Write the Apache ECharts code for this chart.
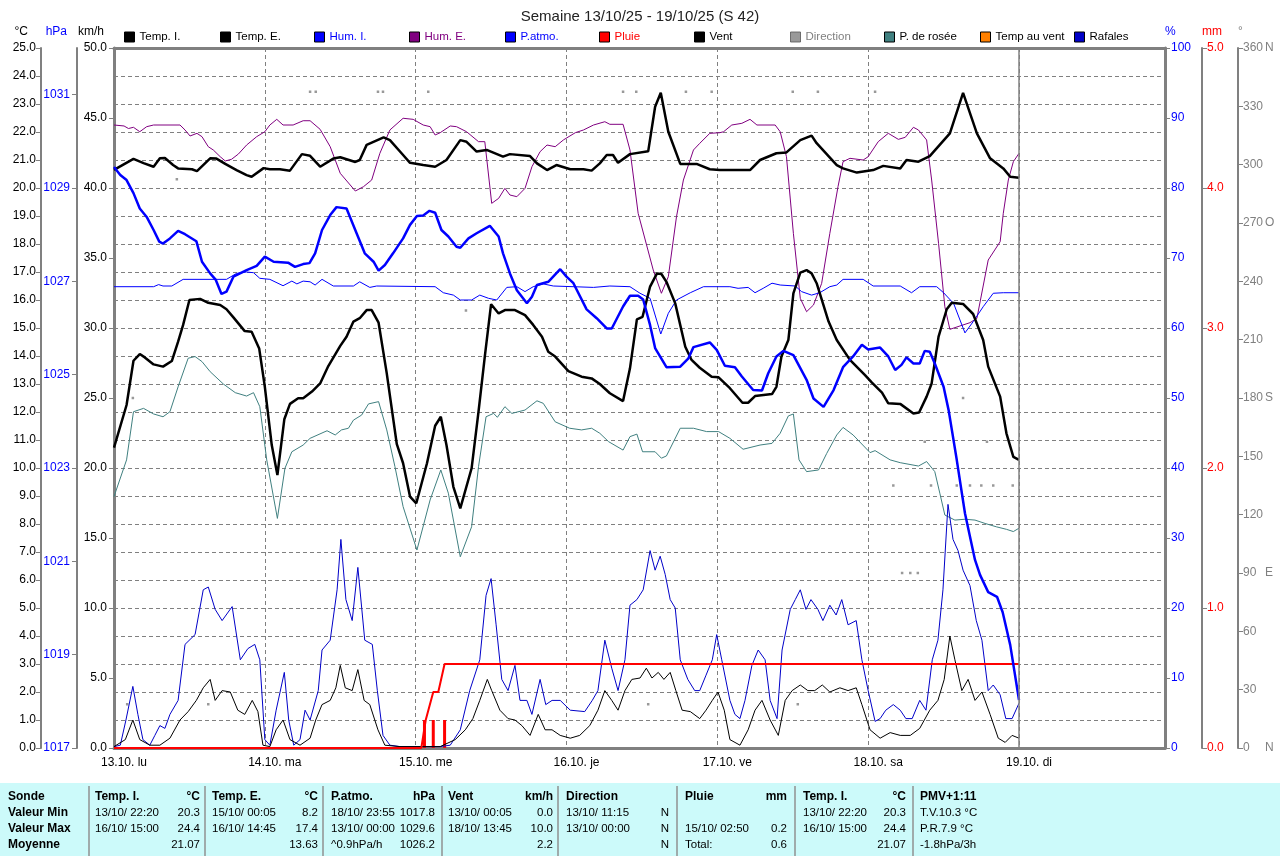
<!DOCTYPE html>
<html><head><meta charset="utf-8">
<script src="https://cdn.jsdelivr.net/npm/echarts@6.0.0/dist/echarts.min.js"></script>
<style>html,body{margin:0;padding:0;background:#fff}#c{width:1280px;height:856px}</style>
</head><body><div id="c"></div>
<script>
// ---------- DATA (time = hours since 13.10 00:00) ----------
const dayLabels = ['13.10. lu','14.10. ma','15.10. me','16.10. je','17.10. ve','18.10. sa','19.10. di'];
const dirSuffix = {360:'N', 270:'O', 180:'S', 90:'E', 0:'N'};

const tempInt = [[0,20.65],[3.1,21.04],[4.7,20.89],[6.3,20.76],[7.3,21.06],[8.1,21.07],[9.4,20.82],[10.2,20.70],[12.4,20.67],[13.2,20.60],[15.3,21.06],[16.3,21.05],[17.7,20.86],[19.5,20.64],[21.1,20.46],[21.9,20.40],[23.8,20.71],[24.8,20.67],[26.4,20.67],[28.0,20.62],[29.9,21.21],[31.2,21.15],[32.8,20.76],[34.9,21.05],[36.0,21.10],[38.4,20.93],[39.1,21.00],[40.2,21.54],[42.9,21.81],[43.9,21.71],[46.0,21.18],[47.1,20.90],[49.2,20.82],[51.1,20.76],[52.9,21.00],[55.1,21.71],[56.1,21.65],[57.7,21.30],[59.3,21.36],[61.9,21.12],[63.0,21.21],[66.2,21.14],[67.3,20.88],[68.9,20.64],[70.4,20.82],[72.6,20.67],[74.7,20.67],[76.0,20.62],[77.3,20.88],[78.4,21.18],[79.4,21.18],[80.2,20.90],[82.1,21.21],[85.0,21.31],[86.1,22.90],[87.0,23.40],[88.2,22.01],[90.1,20.86],[92.7,20.86],[94.8,20.67],[96.4,20.64],[101.2,20.64],[102.8,21.00],[105.4,21.24],[107.0,21.27],[109.2,21.71],[111.0,21.87],[111.8,21.60],[115.0,20.82],[116.0,20.70],[118.2,20.55],[120.8,20.64],[122.4,20.79],[125.1,20.70],[126.1,21.00],[128.0,20.94],[129.8,21.14],[133.0,21.95],[135.1,23.40],[137.3,21.95],[139.4,21.06],[141.5,20.70],[142.6,20.40],[144.0,20.37]];

const tempExt = [[0,10.73],[2.0,12.25],[3.1,13.83],[4.1,14.07],[4.9,13.95],[6.3,13.70],[7.8,13.62],[9.2,13.82],[10.2,14.51],[11.0,15.11],[12.0,16.0],[13.7,16.04],[15.0,15.90],[16.9,15.82],[17.9,15.67],[19.0,15.38],[20.8,14.89],[21.9,14.87],[23.1,14.27],[24.0,12.90],[25.1,10.82],[26.0,9.75],[27.1,11.74],[28.0,12.29],[29.3,12.49],[30.1,12.49],[31.5,12.73],[32.8,13.02],[34.1,13.64],[36.0,14.36],[37.0,14.69],[38.1,15.23],[39.1,15.35],[40.2,15.64],[41.0,15.64],[42.1,15.19],[43.4,13.38],[45.0,10.85],[46.0,10.17],[47.1,8.98],[48.1,8.74],[49.8,10.17],[51.1,11.51],[52.0,11.83],[52.9,10.82],[54.0,9.33],[55.1,8.56],[56.9,9.99],[58.0,12.01],[59.0,13.98],[60.0,15.85],[61.2,15.52],[62.2,15.64],[63.8,15.64],[65.4,15.46],[66.7,15.11],[68.1,14.69],[69.1,14.15],[70.2,13.98],[72.3,13.46],[74.4,13.26],[76.0,13.20],[77.3,13.0],[78.9,12.67],[81.0,12.39],[82.1,13.56],[83.2,15.31],[84.1,15.40],[85.3,16.48],[86.4,16.95],[87.1,16.93],[87.9,16.65],[89.3,15.88],[90.9,14.33],[91.9,13.86],[93.2,13.58],[95.1,13.26],[96.2,13.24],[98.0,12.85],[100.0,12.33],[100.9,12.33],[102.0,12.57],[104.7,12.64],[105.4,12.90],[106.2,13.98],[107.3,14.57],[108.1,16.24],[109.2,16.98],[110.2,17.07],[111.0,16.95],[111.8,16.60],[113.7,15.23],[115.0,14.57],[117.1,13.86],[119.5,13.32],[120.6,13.05],[122.2,12.69],[123.2,12.31],[125.1,12.29],[127.2,11.95],[128.1,11.98],[129.3,12.55],[130.1,13.02],[131.2,14.69],[132.5,15.67],[133.3,15.90],[135.1,15.86],[136.7,15.50],[138.3,14.57],[139.1,13.62],[141.0,12.55],[142.0,11.24],[143.1,10.40],[144.0,10.29]];

const humInt = [[0,65.9],[6.3,65.9],[7.1,66.2],[7.8,66.0],[9.2,66.0],[11.0,66.95],[17.9,66.95],[19.5,67.8],[21.1,68.0],[22.2,67.9],[23.2,67.1],[24.8,66.95],[26.9,66.04],[28.3,66.7],[29.1,66.3],[30.1,66.7],[31.2,66.6],[32.0,66.14],[33.1,66.95],[34.9,66.0],[38.1,66.0],[39.1,66.6],[40.7,65.8],[41.8,66.0],[51.1,65.9],[52.4,65.04],[54.0,64.7],[55.1,64.0],[56.9,64.0],[58.2,64.7],[59.6,64.24],[60.9,64.0],[62.5,65.8],[64.1,65.9],[65.4,65.2],[66.7,65.9],[68.3,66.3],[69.9,66.0],[76.3,65.8],[78.9,66.0],[82.1,65.9],[83.7,64.96],[85.3,64.24],[87.0,59.14],[88.2,62.1],[89.5,64.0],[91.7,65.04],[93.8,65.9],[98.0,65.9],[99.3,65.67],[100.9,65.8],[102.0,65.04],[103.3,65.67],[104.7,66.4],[106.0,66.14],[108.4,66.0],[109.4,65.2],[111.0,64.7],[112.3,65.04],[113.9,65.9],[115.0,66.14],[116.0,66.95],[119.2,66.95],[120.8,66.0],[125.1,66.0],[126.9,65.04],[128.2,65.9],[130.9,65.9],[132.0,65.04],[133.6,63.5],[135.4,59.3],[136.7,60.9],[138.3,63.04],[139.9,64.96],[141.5,65.04],[144.0,65.04]];

const humExt = [[0,89.0],[1.6,88.86],[2.3,88.5],[3.1,88.67],[4.1,88.04],[5.2,88.76],[6.3,89.0],[10.5,89.0],[11.3,88.29],[12.1,87.43],[13.2,87.81],[14.0,87.33],[15.0,85.9],[15.8,85.43],[16.9,84.47],[17.7,83.86],[18.7,84.1],[19.8,84.86],[21.1,86.14],[22.7,87.33],[24.0,88.04],[24.8,89.0],[25.9,89.81],[26.9,89.0],[28.5,89.0],[30.1,89.61],[31.2,89.61],[32.8,88.38],[34.4,85.9],[36.0,82.1],[38.4,79.57],[39.7,80.19],[41.0,81.14],[42.3,84.95],[43.9,88.29],[46.0,89.96],[47.6,89.81],[49.2,89.0],[50.3,88.76],[51.1,87.57],[51.9,87.9],[53.5,88.86],[54.5,88.76],[56.1,88.04],[58.0,86.62],[59.0,86.62],[60.1,77.81],[61.2,78.52],[62.2,79.95],[63.0,79.0],[64.1,78.76],[65.4,79.95],[66.5,83.04],[67.8,85.19],[68.9,86.14],[70.2,85.9],[71.5,86.86],[73.4,87.9],[74.7,88.29],[76.3,89.0],[78.1,89.47],[78.9,89.1],[81.0,89.1],[82.1,85.43],[83.4,76.38],[85.8,68.29],[87.1,64.96],[88.2,67.33],[89.5,75.9],[90.6,81.14],[92.2,85.43],[93.2,86.38],[94.8,87.81],[96.4,87.9],[97.0,88.04],[98.3,89.0],[99.9,89.24],[101.2,89.81],[102.3,89.0],[105.2,89.0],[106.0,88.04],[107.0,84.47],[108.1,73.52],[109.2,64.24],[110.2,62.33],[111.3,63.29],[112.6,66.38],[113.9,73.52],[115.2,80.19],[116.0,83.76],[117.1,84.24],[119.2,84.0],[120.0,84.47],[121.6,86.62],[123.2,87.81],[124.8,86.95],[125.9,87.24],[127.2,88.67],[128.0,88.29],[129.3,86.86],[130.1,81.14],[131.2,72.1],[132.2,63.04],[133.0,59.81],[134.6,60.29],[136.2,60.76],[137.3,61.38],[139.1,69.71],[141.0,72.33],[141.5,76.38],[142.3,81.14],[143.1,83.76],[144.0,84.95]];

const pressure = [[0,1029.45],[1.0,1029.28],[2.0,1029.17],[3.1,1028.89],[4.1,1028.56],[5.2,1028.38],[6.3,1028.10],[7.2,1027.85],[7.8,1027.81],[8.9,1027.92],[10.2,1028.08],[11.3,1028.01],[13.1,1027.86],[14.0,1027.42],[15.3,1027.17],[16.2,1027.03],[17.1,1026.73],[17.9,1026.78],[19.0,1027.10],[21.1,1027.24],[22.7,1027.33],[24.0,1027.53],[25.4,1027.42],[27.7,1027.40],[28.8,1027.31],[30.1,1027.37],[31.1,1027.39],[32.0,1027.60],[33.1,1028.10],[34.4,1028.42],[35.4,1028.59],[37.0,1028.56],[38.6,1028.03],[39.9,1027.60],[41.3,1027.42],[42.1,1027.23],[43.1,1027.35],[44.4,1027.60],[46.0,1027.92],[47.1,1028.21],[48.2,1028.40],[49.2,1028.41],[50.2,1028.51],[51.1,1028.47],[52.1,1028.10],[53.2,1027.96],[54.5,1027.74],[55.1,1027.72],[56.4,1027.92],[57.7,1028.03],[59.8,1028.19],[61.2,1027.96],[61.9,1027.60],[63.0,1027.17],[64.1,1026.81],[65.7,1026.53],[66.5,1026.67],[67.3,1026.92],[69.1,1026.99],[71.0,1027.26],[72.0,1027.10],[73.1,1026.96],[75.2,1026.40],[76.8,1026.21],[78.4,1025.99],[79.2,1025.99],[81.0,1026.46],[82.1,1026.69],[83.4,1026.69],[84.2,1026.61],[85.3,1026.06],[86.1,1025.57],[87.9,1025.16],[90.1,1025.17],[91.4,1025.35],[92.2,1025.59],[94.8,1025.69],[95.9,1025.53],[97.2,1025.19],[98.8,1025.16],[99.9,1024.96],[101.7,1024.67],[103.1,1024.66],[104.1,1025.03],[105.4,1025.39],[106.5,1025.51],[108.1,1025.42],[110.2,1024.89],[111.3,1024.49],[112.9,1024.31],[114.5,1024.67],[116.0,1025.16],[117.6,1025.39],[119.0,1025.64],[120.0,1025.54],[121.9,1025.58],[123.2,1025.39],[124.3,1025.10],[125.3,1025.21],[126.1,1025.37],[127.2,1025.24],[128.2,1025.24],[129.0,1025.51],[129.8,1025.49],[130.6,1025.24],[132.0,1024.74],[132.8,1024.24],[134.1,1023.17],[135.4,1022.03],[137.0,1021.03],[137.8,1020.71],[139.1,1020.34],[140.5,1020.24],[141.4,1019.91],[142.6,1019.21],[144.0,1018.03]];

const dewPoint = [[0,8.98],[2.0,10.29],[3.1,12.01],[4.7,12.13],[6.3,11.93],[7.8,11.83],[8.9,12.01],[10.2,12.9],[11.8,13.92],[12.9,13.98],[14.0,13.8],[15.3,13.44],[17.4,13.0],[19.3,12.69],[21.1,12.57],[22.2,12.69],[23.2,12.19],[24.3,10.29],[26.0,8.2],[27.2,9.99],[28.3,10.58],[30.1,10.82],[31.2,11.06],[33.9,11.33],[35.2,11.18],[36.2,11.36],[37.3,11.42],[38.1,11.71],[39.4,11.89],[40.5,12.29],[42.1,12.37],[43.4,11.36],[44.7,10.05],[46.0,8.62],[48.2,7.07],[50.3,8.86],[52.0,9.93],[53.2,9.1],[55.1,6.83],[56.9,7.9],[58.0,10.05],[59.2,11.83],[60.4,11.95],[61.0,11.81],[62.2,12.19],[63.3,11.95],[65.4,12.07],[67.3,12.4],[68.3,12.31],[70.2,11.65],[72.5,11.42],[74.4,11.36],[76.0,11.42],[77.3,11.24],[78.7,10.94],[81.0,10.64],[82.1,11.12],[83.2,11.21],[84.1,10.58],[86.1,10.58],[87.1,10.35],[87.9,10.43],[90.1,11.42],[92.2,11.42],[94.3,11.3],[96.2,11.3],[98.0,11.06],[100.1,10.67],[102.8,10.82],[104.7,10.88],[106.0,11.24],[107.3,11.86],[108.1,11.93],[109.0,10.29],[110.2,9.87],[112.1,9.93],[113.4,10.52],[115.0,11.18],[116.0,11.45],[117.6,11.18],[120.3,10.55],[121.1,10.62],[123.5,10.29],[125.1,10.19],[128.0,10.07],[129.3,10.23],[130.6,9.87],[131.4,9.1],[132.2,8.32],[133.8,8.14],[135.4,8.17],[137.0,8.14],[138.6,8.02],[140.4,7.9],[142.0,7.81],[143.1,7.73],[144.0,7.85]];

const gusts = [[0,0.1],[1.0,0.2],[1.9,2.0],[3.0,4.4],[3.8,2.4],[4.6,0.6],[5.7,0.2],[6.5,0.9],[7.3,1.6],[8.1,1.4],[8.9,2.4],[10.2,3.4],[11.3,7.4],[12.9,8.1],[14.2,11.3],[15.0,11.5],[16.1,9.9],[17.2,9.1],[18.8,10.1],[20.1,6.3],[21.3,7.1],[22.4,7.4],[23.2,6.3],[24.0,0.6],[24.8,0.2],[25.8,2.7],[27.1,5.4],[27.8,2.0],[28.6,0.2],[29.6,0.6],[30.4,2.7],[31.2,2.0],[32.5,4.1],[33.1,7.0],[34.4,7.7],[35.5,11.3],[36.1,14.9],[36.9,10.6],[37.9,9.1],[38.8,12.9],[39.9,7.7],[41.1,7.4],[41.9,4.1],[42.8,0.9],[43.9,0.2],[45.5,0.1],[51.9,0.1],[53.5,0.2],[55.1,1.3],[56.6,4.1],[58.2,6.3],[59.2,10.9],[60.0,12.1],[60.8,8.8],[61.7,4.9],[62.7,4.1],[63.8,5.9],[64.6,3.4],[65.7,3.4],[66.5,2.4],[67.8,4.9],[68.7,3.1],[69.7,3.4],[71.0,3.4],[72.6,2.7],[74.9,2.6],[76.1,3.4],[77.0,4.1],[78.1,7.7],[79.2,5.7],[80.2,4.1],[81.3,6.3],[82.1,10.2],[83.2,10.6],[84.2,11.3],[85.3,14.1],[86.1,12.7],[86.9,13.7],[87.7,12.4],[88.5,10.6],[89.3,10.0],[90.1,6.3],[91.3,4.9],[92.4,4.1],[93.2,4.1],[94.2,5.2],[95.2,6.3],[95.9,8.1],[96.7,6.3],[98.0,3.4],[98.8,2.4],[99.6,2.1],[100.4,3.4],[101.5,5.9],[102.5,7.0],[103.6,6.3],[104.4,3.4],[105.5,2.1],[106.3,7.0],[107.6,9.9],[108.4,10.6],[109.2,11.3],[110.1,9.9],[110.9,10.6],[112.0,9.9],[112.8,9.1],[113.9,10.2],[114.9,9.5],[115.8,10.6],[116.8,8.8],[118.1,9.1],[119.0,6.3],[120.0,4.1],[121.1,1.9],[121.9,2.1],[122.8,2.7],[124.0,3.1],[125.1,2.7],[126.0,2.1],[127.0,2.1],[128.2,3.4],[129.2,2.7],[130.2,6.3],[131.1,7.7],[131.9,11.3],[132.7,17.4],[133.5,14.9],[134.3,14.1],[135.1,12.7],[136.2,11.6],[137.2,9.1],[138.1,7.7],[139.1,4.1],[139.9,4.5],[141.0,3.8],[141.9,2.1],[142.9,2.1],[144.0,3.2]];

const wind = [[0,0.1],[1.8,0.6],[3.0,2.0],[4.1,0.6],[5.7,0.2],[7.3,0.2],[8.9,0.7],[10.5,2.0],[11.8,2.6],[13.1,3.4],[14.2,4.3],[15.3,4.9],[16.1,3.4],[17.2,4.1],[18.5,4.0],[19.7,2.7],[20.8,2.4],[22.0,3.4],[22.9,2.6],[23.7,0.2],[24.8,0.1],[25.8,1.3],[26.9,2.0],[28.0,0.6],[29.6,0.2],[31.2,0.7],[32.1,2.0],[33.1,3.1],[34.4,3.4],[35.3,4.3],[36.0,5.9],[36.8,4.3],[37.9,4.1],[38.8,5.6],[39.8,3.4],[40.7,3.1],[42.0,1.3],[43.1,0.2],[45.5,0.1],[51.9,0.1],[54.3,0.6],[55.9,1.3],[57.1,2.1],[58.2,3.4],[59.4,4.9],[60.1,4.1],[61.4,2.7],[62.7,2.1],[63.8,2.0],[64.9,1.6],[66.2,0.9],[67.5,2.4],[68.6,1.3],[69.7,1.3],[71.0,0.9],[72.6,0.7],[74.1,0.9],[75.7,1.6],[77.0,2.7],[78.1,4.1],[79.2,3.4],[80.2,2.7],[81.3,4.1],[82.4,4.9],[83.7,5.0],[84.7,5.7],[85.6,5.0],[86.6,5.4],[87.5,4.9],[88.5,5.4],[89.4,4.1],[90.4,2.7],[91.7,2.6],[93.2,2.1],[94.2,2.7],[95.2,3.4],[96.1,4.0],[97.1,2.7],[98.0,0.6],[99.6,0.2],[100.9,1.3],[102.0,2.7],[103.1,3.4],[104.4,2.0],[105.7,0.9],[106.8,3.4],[107.9,4.1],[109.2,4.5],[110.4,4.1],[111.5,4.1],[112.7,4.5],[113.9,4.0],[115.5,4.3],[116.8,4.1],[118.1,4.3],[119.0,3.1],[120.3,1.3],[121.9,0.7],[123.5,1.1],[125.1,0.9],[126.7,0.9],[128.2,1.4],[129.8,2.7],[131.1,3.4],[132.1,4.9],[133.0,8.0],[133.8,6.3],[134.9,4.1],[135.9,4.9],[137.0,3.4],[138.1,4.0],[139.4,2.4],[140.7,0.7],[141.8,0.4],[142.9,0.9],[144.0,0.7]];

const direction = [[2.1,22.5],[3.0,180],[10.0,292.5],[15.0,22.5],[31.2,337.5],[32.1,337.5],[42.0,337.5],[42.8,337.5],[50.0,337.5],[56.0,225],[81.0,337.5],[83.1,337.5],[85.0,22.5],[91.0,337.5],[95.1,337.5],[108.0,337.5],[108.8,22.5],[112.0,337.5],[121.1,337.5],[124.0,135],[125.4,90],[126.7,90],[127.9,90],[129.0,157.5],[130.0,135],[134.1,135],[135.1,180],[136.2,135],[138.0,135],[138.9,157.5],[139.9,135],[143.0,135]];

const rainTotal = [[0,0],[48.9,0],[49.6,0.2],[50.8,0.4],[51.6,0.4],[52.6,0.6],[144,0.6]];
const rainBars = [[49.4,0.2],[50.8,0.2],[52.6,0.2]];

// table texts
const tableRowLabels = ['Sonde','Valeur Min','Valeur Max','Moyenne'];
const colHeads = ['Temp. I.','Temp. E.','P.atmo.','Vent','Direction','Pluie','Temp. I.','PMV+1:11'];
const colUnits = ['°C','°C','hPa','km/h','','mm','°C',''];
const colDates = [
  ['13/10/ 22:20','16/10/ 15:00',''],
  ['15/10/ 00:05','16/10/ 14:45',''],
  ['18/10/ 23:55','13/10/ 00:00','^0.9hPa/h'],
  ['13/10/ 00:05','18/10/ 13:45',''],
  ['13/10/ 11:15','13/10/ 00:00',''],
  ['','15/10/ 02:50','Total:'],
  ['13/10/ 22:20','16/10/ 15:00',''],
  ['T.V.10.3 °C','P.R.7.9 °C','-1.8hPa/3h']
];
const colValues = [
  ['20.3','24.4','21.07'],
  ['8.2','17.4','13.63'],
  ['1017.8','1029.6','1026.2'],
  ['0.0','10.0','2.2'],
  ['N','N','N'],
  ['','0.2','0.6'],
  ['20.3','24.4','21.07'],
  ['','','']
];

// ---------- LAYOUT / STYLE ----------
const FONT = '"Liberation Sans", Arial, sans-serif';
const GRAY = '#808080';
const X_MAX = 167.23;

function yAxis(o) {
  return {
    type: 'value', position: o.position, offset: o.offset, min: o.min, max: o.max, interval: o.interval,
    name: o.name, nameLocation: 'end', nameGap: 16,
    nameTextStyle: { color: o.nameColor, fontFamily: FONT, fontSize: 12, align: o.nameAlign, verticalAlign: 'middle', padding: o.namePad },
    axisLine: { show: true, onZero: false, lineStyle: { color: GRAY, width: o.lineWidth || 2 } },
    axisTick: { show: true, length: 5, lineStyle: { color: GRAY } },
    axisLabel: { color: o.labelColor, fontFamily: FONT, fontSize: 12, margin: o.margin, formatter: o.formatter, showMaxLabel: o.showMax !== false, rich: o.rich },
    splitLine: o.split ? { show: true, lineStyle: { color: GRAY, type: [4, 3], width: 1 } } : { show: false }
  };
}

const yAxes = [
  yAxis({ position: 'left', offset: 0, min: 0, max: 50, interval: 5, name: 'km/h', nameColor: '#000', nameAlign: 'right', namePad: [0, 10, 0, 0], lineWidth: 3, labelColor: '#000', margin: 7, formatter: v => v.toFixed(1) }),
  yAxis({ position: 'left', offset: 73, min: 0, max: 25, interval: 1, name: '°C', nameColor: '#000', nameAlign: 'right', namePad: [0, 13, 0, 0], labelColor: '#000', margin: 5, formatter: v => v.toFixed(1), split: true }),
  yAxis({ position: 'left', offset: 37, min: 1017, max: 1032, interval: 2, name: 'hPa', nameColor: '#0000ff', nameAlign: 'right', namePad: [0, 10, 0, 0], labelColor: '#0000ff', margin: 7, formatter: v => (v >= 1032 ? '' : String(v)), showMax: false }),
  yAxis({ position: 'right', offset: 0, min: 0, max: 100, interval: 10, name: '%', nameColor: '#0000ff', nameAlign: 'left', namePad: [0, 0, 0, 0], lineWidth: 3, labelColor: '#0000ff', margin: 6, formatter: v => String(v) }),
  yAxis({ position: 'right', offset: 37, min: 0, max: 5, interval: 1, name: 'mm', nameColor: '#ff0000', nameAlign: 'left', namePad: [0, 0, 0, 0], labelColor: '#ff0000', margin: 5, formatter: v => v.toFixed(1) }),
  yAxis({ position: 'right', offset: 73, min: 0, max: 360, interval: 30, name: '°', nameColor: GRAY, nameAlign: 'left', namePad: [0, 0, 0, 0], labelColor: GRAY, margin: 5,
    formatter: v => (dirSuffix[v] ? '{n|' + v + '}{d|' + dirSuffix[v] + '}' : String(v)),
    rich: { n: { width: 22, color: GRAY, fontFamily: FONT, fontSize: 12 }, d: { color: GRAY, fontFamily: FONT, fontSize: 12 } } })
];

const legendDefs = [
  ['Temp. I.', 124, '#000000'], ['Temp. E.', 220, '#000000'], ['Hum. I.', 314, '#0000ff'], ['Hum. E.', 409, '#800080'],
  ['P.atmo.', 505, '#0000ff'], ['Pluie', 599, '#ff0000'], ['Vent', 694, '#000000'], ['Direction', 790, GRAY],
  ['P. de rosée', 884, '#000000'], ['Temp au vent', 980, '#000000'], ['Rafales', 1074, '#000000']
];

function lineSeries(name, data, color, width, yIdx, extra) {
  return Object.assign({
    name, type: 'line', data, xAxisIndex: 0, yAxisIndex: yIdx, color,
    showSymbol: false, symbol: 'none', silent: true,
    lineStyle: { color, width }, emphasis: { disabled: true }
  }, extra || {});
}

// table graphics
const colLeft = [95, 212, 331, 448, 566, 685, 803, 920];
const colRight = [200, 318, 435, 553, 669, 787, 906, 1270];
const sepX = [89, 205, 323, 442, 558, 677, 795, 913];
const rowY = [797, 813, 829, 845];
const BOLD = 'bold 12px ' + FONT;
const NORM = '11.5px ' + FONT;
const graphics = [{ type: 'rect', z: 0, shape: { x: 0, y: 783, width: 1280, height: 73 }, style: { fill: '#ccfafa' } }];
sepX.forEach(x => graphics.push({ type: 'line', z: 1, shape: { x1: x, y1: 786, x2: x, y2: 856 }, style: { stroke: '#909090', lineWidth: 1.5 } }));
function txt(t, x, y, font, align) {
  graphics.push({ type: 'text', z: 2, style: { text: t, x, y, font, fill: '#000', textAlign: align, textVerticalAlign: 'middle' } });
}
tableRowLabels.forEach((t, i) => txt(t, 8, rowY[i], BOLD, 'left'));
colHeads.forEach((h, c) => {
  txt(h, colLeft[c], rowY[0], BOLD, 'left');
  if (colUnits[c]) txt(colUnits[c], colRight[c], rowY[0], BOLD, 'right');
  for (let r = 0; r < 3; r++) {
    if (colDates[c][r]) txt(colDates[c][r], colLeft[c], rowY[r + 1], NORM, 'left');
    if (colValues[c][r]) txt(colValues[c][r], colRight[c], rowY[r + 1], NORM, 'right');
  }
});

const option = {
  animation: false,
  backgroundColor: '#ffffff',
  title: { text: 'Semaine 13/10/25 - 19/10/25 (S 42)', left: 'center', top: 4, textStyle: { fontFamily: FONT, fontSize: 15, fontWeight: 'normal', color: '#222' } },
  legend: legendDefs.map(([name, left, tc]) => ({
    data: [{ name, itemStyle: { borderColor: name === 'Direction' ? '#555' : '#000', borderWidth: 1 } }],
    left, top: 31, padding: 0, icon: 'rect', itemWidth: 10, itemHeight: 10, itemGap: 0,
    textStyle: { color: tc, fontFamily: FONT, fontSize: 11.5, padding: [0, 0, 0, 0] }, selectedMode: false
  })),
  grid: { left: 114, right: 115, top: 48, bottom: 108, containLabel: false, outerBoundsMode: 'none' },
  xAxis: [
    { type: 'value', min: 0, max: X_MAX, interval: 24, position: 'bottom',
      axisLine: { show: true, onZero: false, lineStyle: { color: GRAY, width: 3 } }, axisTick: { show: false },
      axisLabel: { color: '#000', fontFamily: FONT, fontSize: 12, margin: 9, align: 'center', padding: [0, 0, 0, 20], showMaxLabel: false,
        formatter: v => { const i = Math.round(v / 24); return (Math.abs(v - i * 24) < 1e-6 && dayLabels[i]) ? dayLabels[i] : ''; } },
      splitLine: { show: true, lineStyle: { color: GRAY, type: [4, 3], width: 1 } } },
    { type: 'value', min: 0, max: X_MAX, position: 'top',
      axisLine: { show: true, onZero: false, lineStyle: { color: GRAY, width: 3 } }, axisTick: { show: false }, axisLabel: { show: false }, splitLine: { show: false } }
  ],
  yAxis: yAxes,
  series: [
    { name: 'Direction', type: 'scatter', data: direction, xAxisIndex: 0, yAxisIndex: 5, color: GRAY, symbol: 'rect', symbolSize: 2.5, silent: true, itemStyle: { color: GRAY } },
    lineSeries('Temp au vent', [], '#ff8000', 1, 1),
    lineSeries('P. de rosée', dewPoint, '#408080', 1, 1),
    lineSeries('Hum. E.', humExt, '#800080', 1, 3),
    lineSeries('Hum. I.', humInt, '#0000ff', 1, 3),
    lineSeries('Rafales', gusts, '#0000c8', 1, 0),
    lineSeries('Vent', wind, '#000000', 1, 0),
    { name: 'Pluie', type: 'bar', data: rainBars, xAxisIndex: 0, yAxisIndex: 4, color: '#ff0000', barWidth: 3, silent: true, itemStyle: { color: '#ff0000' } },
    lineSeries('Pluie', rainTotal, '#ff0000', 2, 4),
    lineSeries('Temp. E.', tempExt, '#000000', 2.5, 1),
    lineSeries('Temp. I.', tempInt, '#000000', 2.5, 1, {
      markLine: { silent: true, symbol: 'none', label: { show: false }, lineStyle: { color: GRAY, type: 'solid', width: 1.5 }, data: [{ xAxis: 144 }] }
    }),
    lineSeries('P.atmo.', pressure, '#0000ff', 2.5, 2)
  ],
  graphic: graphics
};

const chart = echarts.init(document.getElementById('c'), null, { renderer: 'canvas' });
chart.setOption(option);
</script>
</body></html>
